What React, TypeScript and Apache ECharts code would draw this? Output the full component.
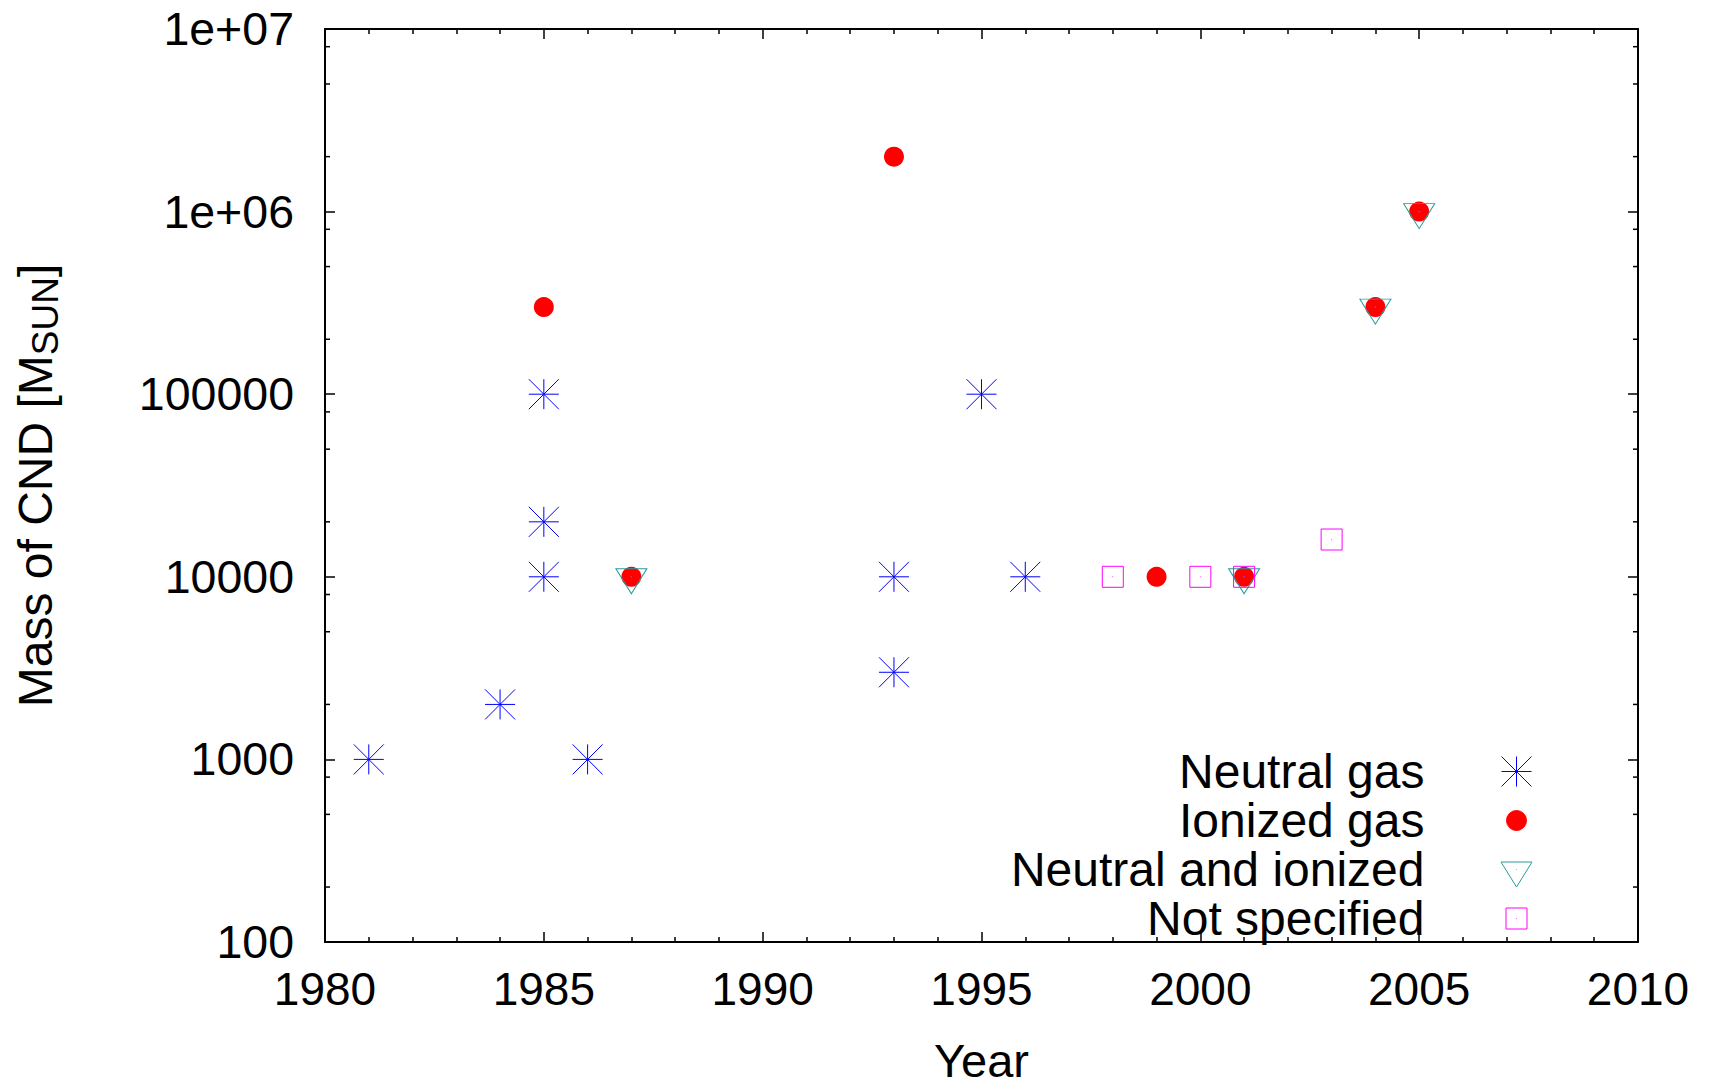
import React, { useEffect, useRef } from 'react';
import * as echarts from 'echarts';

// ---- data ----
const neutralYears = [1981, 1984, 1985, 1985, 1985, 1986, 1993, 1993, 1995, 1996];
const neutralMass = [1000, 2000, 100000, 20000, 10000, 1000, 10000, 3000, 100000, 10000];

const ionizedYears = [1985, 1987, 1993, 1999, 2001, 2004, 2005];
const ionizedMass = [300000, 10000, 2000000, 10000, 10000, 300000, 1000000];

const bothYears = [1987, 2001, 2004, 2005];
const bothMass = [10000, 10000, 300000, 1000000];

const unspecYears = [1998, 2000, 2001, 2003];
const unspecMass = [10000, 10000, 10000, 16000];

const seriesNames = ['Neutral gas', 'Ionized gas', 'Neutral and ionized', 'Not specified'];
const yTickLabels = ['100', '1000', '10000', '100000', '1e+06', '1e+07'];
const yMinorTicks = [200, 500, 800, 2000, 5000, 8000, 20000, 50000, 80000, 200000, 500000, 800000, 2000000, 5000000, 8000000];

const FONT = 'Liberation Sans, Arial, sans-serif';

// marker shapes
const asteriskSym = 'path://M0,0 L30,30 M0,30 L30,0 M15,0 L15,30 M0,15 L30,15';
const triangleSym = 'path://M0,0 L31,0 L15.5,25 Z M15.4,7.9 L15.6,7.9 L15.6,8.1 L15.4,8.1 Z';
const squareSym = 'path://M0,0 L21,0 L21,21 L0,21 Z M10.4,10.4 L10.6,10.4 L10.6,10.6 L10.4,10.6 Z';

// legend icons (box 174 x 48, marker centred at 87,24)
const BOX = 'M0,0 M174,48 ';
const legAsterisk = 'path://' + BOX + 'M72,9 L102,39 M72,39 L102,9 M87,9 L87,39 M72,24 L102,24';
const legCircle = 'path://' + BOX + 'M97,24 A10,10 0 1 1 77,24 A10,10 0 1 1 97,24 Z';
const legTriangle = 'path://' + BOX + 'M71.5,16.5 L102.5,16.5 L87,41.5 Z M86.9,23.9 L87.1,23.9 L87.1,24.1 L86.9,24.1 Z';
const legSquare = 'path://' + BOX + 'M76.5,13.5 L97.5,13.5 L97.5,34.5 L76.5,34.5 Z M86.9,23.9 L87.1,23.9 L87.1,24.1 L86.9,24.1 Z';

const zip = (xs: number[], ys: number[]) => xs.map((x, i) => [x, ys[i]]);

const axisLine = { show: true, lineStyle: { color: '#000', width: 2 } };
const tickStyle = { color: '#000', width: 1.5 };

export default function App() {
  const ref = useRef<HTMLDivElement>(null);
  useEffect(() => {
    const chart = echarts.init(ref.current!, null, { renderer: 'svg' });
    const option: any = {
      animation: false,
      backgroundColor: '#fff',
      grid: { left: 325, top: 29, width: 1313, height: 920, containLabel: false },
      xAxis: [
        {
          type: 'value', min: 1980, max: 2010, interval: 5, position: 'bottom',
          name: 'Year', nameLocation: 'middle', nameGap: 95,
          nameTextStyle: { fontSize: 47, color: '#000', fontFamily: FONT },
          axisLine,
          axisTick: { show: true, inside: true, length: 10, lineStyle: tickStyle },
          minorTick: { show: true, splitNumber: 5, length: 5, lineStyle: tickStyle },
          splitLine: { show: false },
          axisLabel: { fontSize: 46, color: '#000', fontFamily: FONT, margin: 24, formatter: (v: number) => String(v) },
        },
        {
          type: 'value', min: 1980, max: 2010, interval: 5, position: 'top',
          axisLine,
          axisTick: { show: true, inside: true, length: 10, lineStyle: tickStyle },
          minorTick: { show: true, splitNumber: 5, length: 5, lineStyle: tickStyle },
          splitLine: { show: false },
          axisLabel: { show: false },
        },
      ],
      yAxis: [
        {
          type: 'log', logBase: 10, min: 100, max: 10000000, position: 'left',
          name: '{a|Mass of CND [M}{s|SUN}{a|]}', nameLocation: 'middle', nameGap: 261,
          nameTextStyle: {
            fontSize: 48, color: '#000', fontFamily: FONT,
            rich: {
              a: { fontSize: 48, lineHeight: 57, fontFamily: FONT, color: '#000', verticalAlign: 'middle' },
              s: { fontSize: 37, fontFamily: FONT, color: '#000', verticalAlign: 'bottom' },
            },
          },
          axisLine,
          axisTick: { show: true, inside: true, length: 10, lineStyle: tickStyle },
          splitLine: { show: false },
          axisLabel: {
            fontSize: 46.5, color: '#000', fontFamily: FONT, margin: 31,
            formatter: (v: number) => yTickLabels[Math.round(Math.log10(v)) - 2] ?? '',
          },
        },
        {
          type: 'log', logBase: 10, min: 100, max: 10000000, position: 'right',
          axisLine,
          axisTick: { show: true, inside: true, length: 10, lineStyle: tickStyle },
          splitLine: { show: false },
          axisLabel: { show: false },
        },
      ],
      legend: {
        show: true, orient: 'vertical', align: 'right', right: 107, top: 747, padding: 0,
        itemWidth: 174, itemHeight: 48, itemGap: 0, selectedMode: false,
        itemStyle: { borderWidth: 1 },
        textStyle: { fontSize: 48, color: '#000', fontFamily: FONT },
        data: [
          { name: seriesNames[0], icon: legAsterisk },
          { name: seriesNames[1], icon: legCircle },
          { name: seriesNames[2], icon: legTriangle },
          { name: seriesNames[3], icon: legSquare },
        ],
      },
      series: [
        {
          type: 'custom', silent: true, xAxisIndex: 0, yAxisIndex: 0, clip: false, z: 10,
          data: yMinorTicks.map((v) => [1980, v]),
          encode: { x: 0, y: 1 },
          renderItem: (params: any, api: any) => {
            const y = api.coord([1980, api.value(1)])[1];
            const cs = params.coordSys;
            return {
              type: 'group',
              children: [
                { type: 'line', shape: { x1: cs.x, y1: y, x2: cs.x + 5, y2: y }, style: { stroke: '#000', lineWidth: 1.5 } },
                { type: 'line', shape: { x1: cs.x + cs.width - 5, y1: y, x2: cs.x + cs.width, y2: y }, style: { stroke: '#000', lineWidth: 1.5 } },
              ],
            };
          },
        },
        {
          name: seriesNames[0], type: 'scatter', data: zip(neutralYears, neutralMass),
          symbol: asteriskSym, symbolSize: 30,
          itemStyle: { color: 'rgba(0,0,0,0)', borderColor: '#0000ff', borderWidth: 1, opacity: 1 },
        },
        {
          name: seriesNames[1], type: 'scatter', data: zip(ionizedYears, ionizedMass),
          symbol: 'circle', symbolSize: 20,
          itemStyle: { color: '#ff0000', borderColor: '#ff0000', borderWidth: 0, opacity: 1 },
        },
        {
          name: seriesNames[2], type: 'scatter', data: zip(bothYears, bothMass),
          symbol: triangleSym, symbolSize: [31, 25], symbolOffset: [0, 4.5],
          itemStyle: { color: 'rgba(0,0,0,0)', borderColor: '#2b9b9b', borderWidth: 1, opacity: 1 },
        },
        {
          name: seriesNames[3], type: 'scatter', data: zip(unspecYears, unspecMass),
          symbol: squareSym, symbolSize: 21,
          itemStyle: { color: 'rgba(0,0,0,0)', borderColor: '#ff00ff', borderWidth: 1, opacity: 1 },
        },
      ],
    };
    chart.setOption(option);
    return () => chart.dispose();
  }, []);
  return (
    <div
      ref={ref}
      style={{ position: 'fixed', left: 0, top: 0, width: 1711, height: 1089, background: '#fff' }}
    />
  );
}
